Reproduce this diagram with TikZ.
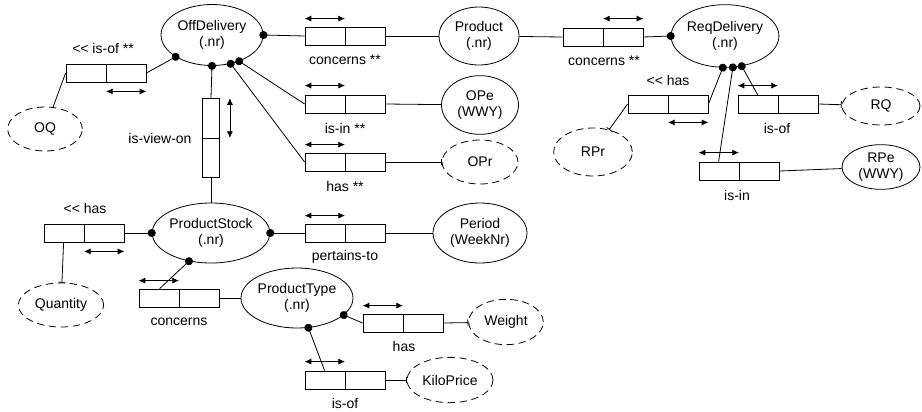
\documentclass[tikz,border=0pt]{standalone}
\usepackage{fontspec}
\setmainfont{Liberation Sans}
\usetikzlibrary{shapes.geometric,arrows.meta,calc}

\tikzset{
  ent/.style={draw, ellipse, inner sep=0pt, align=center},
  attr/.style={ent, dash pattern=on 5.5pt off 3.5pt},
  fact/.style={draw, inner sep=0pt, minimum width=60pt, minimum height=13.5pt,
    path picture={\draw (path picture bounding box.north) -- (path picture bounding box.south);}},
  vfact/.style={draw, inner sep=0pt, minimum width=12.75pt, minimum height=59.25pt,
    path picture={\draw (path picture bounding box.west) -- (path picture bounding box.east);}},
  uniq/.style={{Latex[length=5pt,width=4.5pt]}-{Latex[length=5pt,width=4.5pt]}},
  role/.style={{Circle[length=6pt]}-, shorten <=-3pt},
  toattr/.style={-{Bar[width=5pt]}},
  lbl/.style={inner sep=1pt},
}

\begin{document}
\begin{tikzpicture}[x=0.75pt,y=0.75pt,yscale=-1,xscale=1,line width=0.6pt,
  font=\fontsize{10.5}{12.5}\selectfont]
\useasboundingbox (0,0) rectangle (922,411);

%Shape: Ellipse
\node[ent, minimum width=76.5pt, minimum height=45.75pt] (offdel) at (212,35) {OffDelivery\\(.nr)};
\node[ent, minimum width=60pt, minimum height=43.5pt] (product) at (479,36) {Product\\(.nr)};
\node[ent, minimum width=72pt, minimum height=47pt] (reqdel) at (725,36) {ReqDelivery\\(.nr)};
\node[ent, minimum width=57.75pt, minimum height=44pt] (ope) at (480,105) {OPe\\(WWY)};
\node[ent, minimum width=58.5pt, minimum height=33.5pt] (rpe) at (881,167) {RPe\\(WWY)};
\node[ent, minimum width=88pt, minimum height=45pt] (pstock) at (211,233) {ProductStock\\(.nr)};
\node[ent, minimum width=70.5pt, minimum height=45pt] (period) at (480,233) {Period\\(WeekNr)};
\node[ent, minimum width=84pt, minimum height=45pt] (ptype) at (297,298) {ProductType\\(.nr)};

%Shape: Ellipse (dashed)
\node[attr, minimum width=56pt, minimum height=33pt] (oq) at (45,129) {OQ};
\node[attr, minimum width=57pt, minimum height=33pt] (opr) at (480,162) {OPr};
\node[attr, minimum width=58.5pt, minimum height=28.5pt] (rq) at (881,106) {RQ};
\node[attr, minimum width=59pt, minimum height=36pt] (rpr) at (593,152) {RPr};
\node[attr, minimum width=64pt, minimum height=33pt] (quantity) at (61,305) {Quantity};
\node[attr, minimum width=56pt, minimum height=34pt] (weight) at (506,322) {Weight};
\node[attr, minimum width=64.5pt, minimum height=34pt] (kprice) at (450,380) {KiloPrice};

%Shape: Rectangle
\node[fact] (fOQ) at (106,73) {};
\node[fact] (fConc1) at (345,36) {};
\node[fact] (fIsIn) at (345,104) {};
\node[fact] (fHas) at (345,162) {};
\node[fact] (fConc2) at (603,37) {};
\node[fact] (fRHas) at (668,104) {};
\node[fact] (fRIsOf) at (778,104) {};
\node[fact] (fRIsIn) at (739,171) {};
\node[vfact] (fView) at (211,138) {};
\node[fact] (fQHas) at (84,233) {};
\node[fact] (fPert) at (345,233) {};
\node[fact] (fConc3) at (179,298) {};
\node[fact] (fWHas) at (403,323) {};
\node[fact] (fKIsOf) at (345,380) {};

%Straight Lines
\draw[role] (offdel.211) -- (fOQ.east);
\draw (fOQ.west) -- (oq);
\draw[role] (offdel.0) -- (fConc1.west);
\draw (fConc1.east) -- (product);
\draw[role] (offdel.-44) -- (fIsIn.west);
\draw (fIsIn.east) -- (ope);
\draw[role] (offdel.-57) -- (fHas.west);
\draw[toattr] (fHas.east) -- (opr);
\draw[role] (offdel.-90) -- (fView.north);
\draw (fView.south) -- (pstock.north);
\draw[role] (reqdel.180) -- (fConc2.east);
\draw (fConc2.west) -- (product);
\draw[role] (reqdel.-94) -- (fRHas.east);
\draw[toattr] (fRHas.west) -- (rpr);
\draw[role] (reqdel.-76) -- ($(fRIsIn.north west)+(20,0)$);
\draw (fRIsIn.east) -- (rpe);
\draw[role] (reqdel.-61) -- ($(fRIsOf.north west)+(20,0)$);
\draw[toattr] (fRIsOf.east) -- (rq);
\draw[role] (pstock.180) -- (fQHas.east);
\draw[toattr] ($(fQHas.south west)+(20,0)$) -- (quantity);
\draw[role] (pstock.0) -- (fPert.west);
\draw (fPert.east) -- (period);
\draw[role] (pstock.-128) -- ($(fConc3.north west)+(21,0)$);
\draw (fConc3.east) -- (ptype);
\draw[role] (ptype.-20) -- (fWHas.west);
\draw[toattr] (fWHas.east) -- (weight);
\draw[role] (ptype.-69) -- ($(fKIsOf.north west)+(20,0)$);
\draw[toattr] (fKIsOf.east) -- (kprice);

%Uniqueness arrows
\draw[uniq] ($(fOQ.south)+(0,9)$) -- ($(fOQ.south east)+(0,9)$);
\draw[uniq] ($(fConc1.north west)+(0,-8)$) -- ($(fConc1.north)+(0,-8)$);
\draw[uniq] ($(fIsIn.north west)+(0,-9)$) -- ($(fIsIn.north)+(0,-9)$);
\draw[uniq] ($(fHas.north west)+(0,-8)$) -- ($(fHas.north)+(0,-8)$);
\draw[uniq] ($(fConc2.north)+(0,-9)$) -- ($(fConc2.north east)+(0,-9)$);
\draw[uniq] ($(fRHas.south)+(0,9)$) -- ($(fRHas.south east)+(0,9)$);
\draw[uniq] ($(fRIsOf.north west)+(0,-9)$) -- ($(fRIsOf.north)+(0,-9)$);
\draw[uniq] ($(fRIsIn.north west)+(0,-9)$) -- ($(fRIsIn.north)+(0,-9)$);
\draw[uniq] ($(fView.north east)+(10,0)$) -- ($(fView.east)+(10,0)$);
\draw[uniq] ($(fQHas.south)+(0,9)$) -- ($(fQHas.south east)+(0,9)$);
\draw[uniq] ($(fPert.north west)+(0,-8)$) -- ($(fPert.north)+(0,-8)$);
\draw[uniq] ($(fConc3.north west)+(0,-8)$) -- ($(fConc3.north)+(0,-8)$);
\draw[uniq] ($(fWHas.north west)+(0,-8)$) -- ($(fWHas.north)+(0,-8)$);
\draw[uniq] ($(fKIsOf.north west)+(0,-9)$) -- ($(fKIsOf.north)+(0,-9)$);

% Text Node
\node[lbl] (lOQ) at (103,48) {<{}< is-of **};
\node[lbl] (lConc1) at (345,60) {concerns **};
\node[lbl] (lIsIn) at (345,128) {is-in **};
\node[lbl] (lHas) at (345,186) {has **};
\node[lbl] (lConc2) at (604,61) {concerns **};
\node[lbl] (lRHas) at (668,80) {<{}< has};
\node[lbl] (lRIsOf) at (777,128) {is-of};
\node[lbl] (lRIsIn) at (737,195) {is-in};
\node[lbl] (lView) at (160,138) {is-view-on};
\node[lbl] (lQHas) at (85,208) {<{}< has};
\node[lbl] (lPert) at (345,257) {pertains-to};
\node[lbl] (lConc3) at (179,322) {concerns};
\node[lbl] (lWHas) at (404,346) {has};
\node[lbl] (lKIsOf) at (345,403) {is-of};

\end{tikzpicture}
\end{document}
